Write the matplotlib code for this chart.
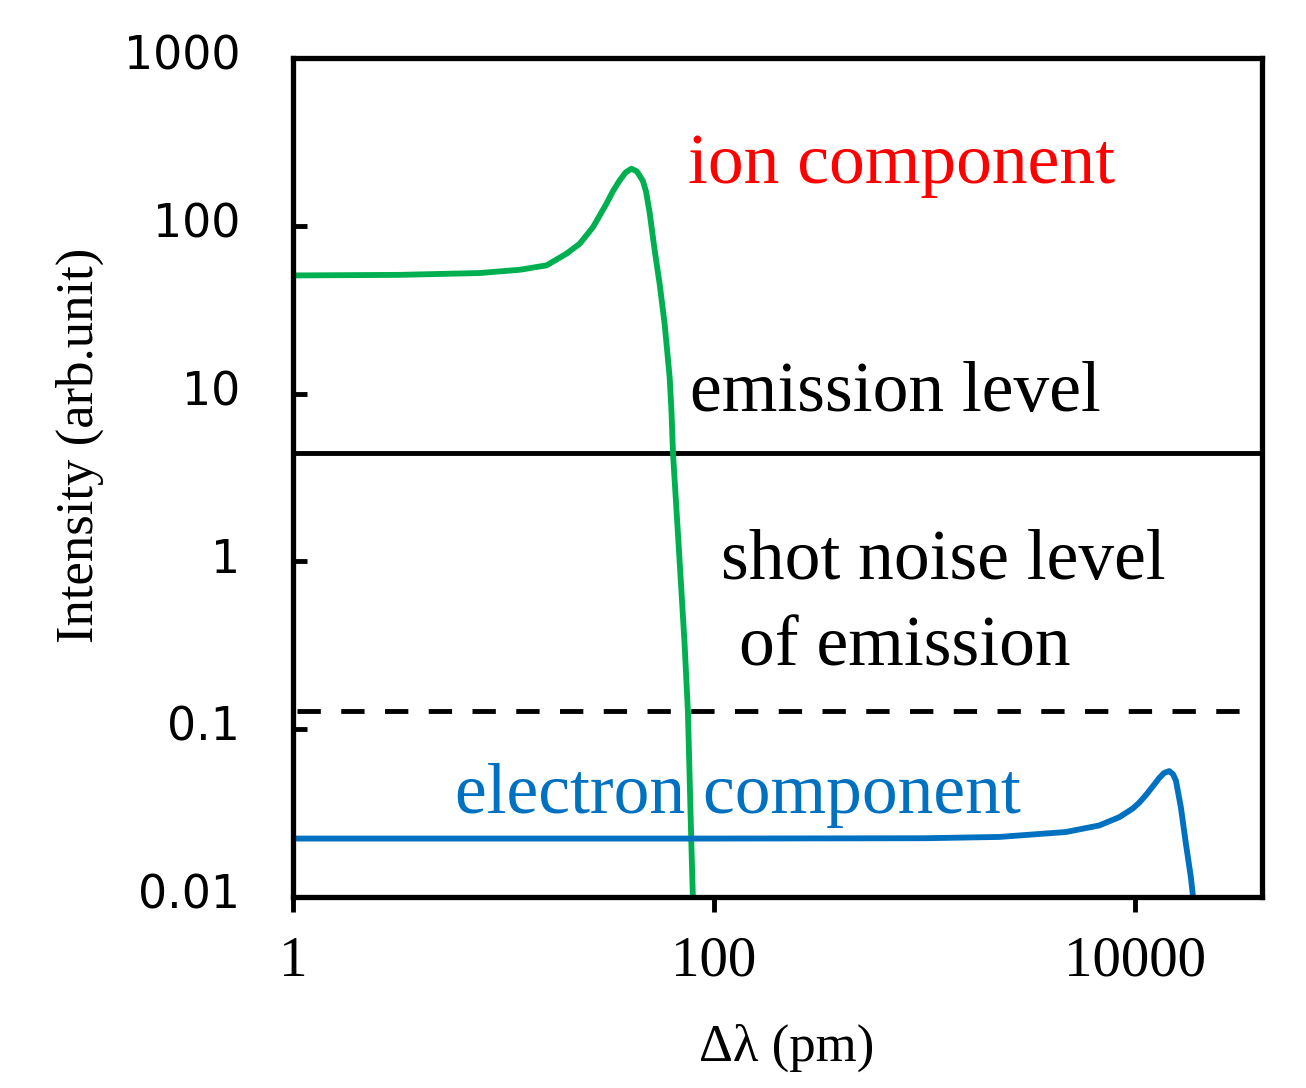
import matplotlib
matplotlib.use("Agg")
import matplotlib.pyplot as plt
import matplotlib.transforms as mtransforms

# ---- data ----
ion_x = [1, 3.2, 7.7, 11.95, 16.0, 19.9, 23.0, 26.6, 28.6, 30.8, 33.0, 35.6, 38.0, 40.5, 43.0,
         45.9, 47.5, 49.4, 52.2, 55.1, 58.2, 61.5, 62.7, 63.8, 68.1, 72.4, 75.1, 78.0, 79.3]
ion_y = [50.6, 51.0, 52.3, 54.7, 58.1, 68.2, 78.2, 98.2, 115.0, 135.4, 160.0, 186.5, 208.0, 219.0, 211.0,
         185.0, 160.0, 120.0, 71.4, 45.2, 26.1, 12.5, 7.94, 4.38, 1.16, 0.323, 0.1264, 0.0203, 0.0098]

ele_x = [1, 100, 1000, 2263, 4690, 6750, 8398, 9710, 10450, 11240, 12310, 13000,
         13700, 14500, 15100, 15600, 16470, 17400, 18380, 18850]
ele_y = [0.0223, 0.0223, 0.0224, 0.0228, 0.0244, 0.0267, 0.0299, 0.0336, 0.0365, 0.0405,
         0.0468, 0.0512, 0.0548, 0.0563, 0.0540, 0.0495, 0.0343, 0.0208, 0.0131, 0.0098]

emission_level = 4.4
shot_noise_level = 0.128

x_ticks = [1, 100, 10000]
x_tick_labels = ["1", "100", "10000"]
y_ticks = [0.01, 0.1, 1, 10, 100, 1000]
y_tick_labels = ["0.01", "0.1", "1", "10", "100", "1000"]

SERIF = ["Liberation Serif", "DejaVu Serif"]

fig = plt.figure(figsize=(13.06, 10.88), dpi=100)
ax = fig.add_axes([293/1306, 1-897/1088, (1262-293)/1306, (897-58)/1088])
ax.set_xscale("log")
ax.set_yscale("log")
ax.set_xlim(1, 4e4)
ax.set_ylim(0.01, 1000)

ax.plot(ion_x, ion_y, color="#00B050", lw=4.2, solid_joinstyle="round",
        solid_capstyle="butt", zorder=3)
ax.plot(ele_x, ele_y, color="#0070C0", lw=4.2, solid_joinstyle="round",
        solid_capstyle="butt", zorder=3)
ax.axhline(emission_level, xmin=0, xmax=0.996, color="black", lw=3.5, zorder=2)
ax.axhline(shot_noise_level, xmin=0.004, xmax=0.99, color="black", lw=3.5,
           dashes=(4.8, 4.2), zorder=2)

for s in ax.spines.values():
    s.set_linewidth(3.8)
    s.set_zorder(4)

ax.set_xticks(x_ticks)
ax.set_xticklabels(x_tick_labels, fontfamily=SERIF, fontsize=41)
ax.xaxis.set_minor_locator(matplotlib.ticker.NullLocator())
ax.tick_params(axis="x", direction="out", length=11, width=3.5, pad=17)

ax.set_yticks(y_ticks)
ax.set_yticklabels(y_tick_labels, fontfamily="DejaVu Sans", fontsize=33)
ax.yaxis.set_minor_locator(matplotlib.ticker.NullLocator())
ax.tick_params(axis="y", direction="in", length=10, width=3.5, pad=38)
off = mtransforms.ScaledTranslation(0, 6/100, fig.dpi_scale_trans)
for lab in ax.get_yticklabels():
    lab.set_transform(lab.get_transform() + off)

fig.text(80/1306, 1-445/1088, "Intensity (arb.unit)", rotation=90, ha="center",
         va="center", fontfamily=SERIF, fontsize=38)
fig.text(787/1306, 1-1048/1088, "Δλ (pm)", ha="center", va="center",
         fontfamily=SERIF, fontsize=38)

fs = 51.5
fig.text(688/1306, 1-183/1088, "ion component", color="#FF0000", fontfamily=SERIF,
         fontsize=fs, ha="left", va="baseline")
fig.text(690/1306, 1-411/1088, "emission level", color="black", fontfamily=SERIF,
         fontsize=fs, ha="left", va="baseline")
fig.text(721/1306, 1-579/1088, "shot noise level", color="black", fontfamily=SERIF,
         fontsize=fs, ha="left", va="baseline")
fig.text(739/1306, 1-665/1088, "of emission", color="black", fontfamily=SERIF,
         fontsize=fs, ha="left", va="baseline")
fig.text(455/1306, 1-813/1088, "electron component", color="#0070C0", fontfamily=SERIF,
         fontsize=fs, ha="left", va="baseline")

fig.savefig("out.png", dpi=100)
